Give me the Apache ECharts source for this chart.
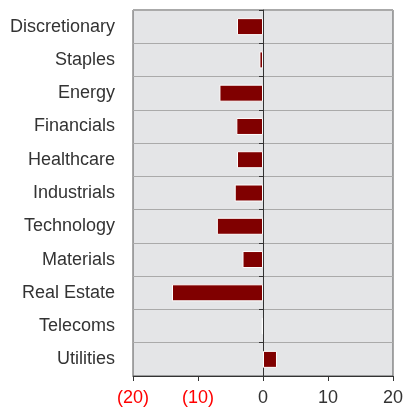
<!DOCTYPE html>
<html>
<head>
<meta charset="utf-8">
<script src="https://cdn.jsdelivr.net/npm/echarts@6/dist/echarts.min.js"></script>
<style>
  html, body { margin: 0; padding: 0; background: #fff; }
  #chart { width: 403px; height: 407px; }
</style>
</head>
<body>
<div id="chart"></div>
<script>
const categories = ['Discretionary', 'Staples', 'Energy', 'Financials', 'Healthcare',
  'Industrials', 'Technology', 'Materials', 'Real Estate', 'Telecoms', 'Utilities']
const values = [-4.0, -0.55, -6.7, -4.1, -4.0, -4.35, -7.1, -3.15, -14.0, -0.2, 2.15]
const xTicks = [-20, -10, 0, 10, 20]

const chart = echarts.init(document.getElementById('chart'))

const fmt = v => (v < 0 ? '(' + Math.abs(v) + ')' : String(v))

chart.setOption({
  animation: false,
  grid: {
    left: 133, right: 10, top: 10, bottom: 31,
    outerBoundsMode: 'none',
    show: true,
    backgroundColor: '#e4e5e7',
    borderColor: '#555',
    borderWidth: 1
  },
  xAxis: {
    type: 'value',
    min: xTicks[0],
    max: xTicks[xTicks.length - 1],
    interval: 10,
    splitLine: { show: false },
    axisLine: { show: true, onZero: false, lineStyle: { color: '#333' } },
    axisTick: { show: true, length: 5, lineStyle: { color: '#333' } },
    axisLabel: {
      fontFamily: 'Liberation Sans, Arial, sans-serif',
      fontSize: 18,
      margin: 13,
      formatter: fmt,
      color: v => (v < 0 ? '#ff0000' : '#333')
    }
  },
  yAxis: [{
    type: 'category',
    data: categories,
    inverse: true,
    axisLine: { show: false },
    axisTick: { show: false },
    splitLine: { show: true, lineStyle: { color: '#aaa', width: 1 } },
    axisLabel: {
      fontFamily: 'Liberation Sans, Arial, sans-serif',
      fontSize: 18,
      color: '#333',
      margin: 18
    }
  }, {
    type: 'category',
    data: categories,
    inverse: true,
    position: 'left',
    axisLine: { show: true, onZero: true, onZeroAxisIndex: 0, lineStyle: { color: '#333' } },
    axisTick: { show: true, length: 4, lineStyle: { color: '#333' } },
    axisLabel: { show: false },
    splitLine: { show: false }
  }],
  series: [{
    type: 'bar',
    data: values,
    barWidth: 17,
    itemStyle: { color: '#800000', borderColor: '#fff', borderWidth: 1 }
  }]
})
</script>
</body>
</html>
